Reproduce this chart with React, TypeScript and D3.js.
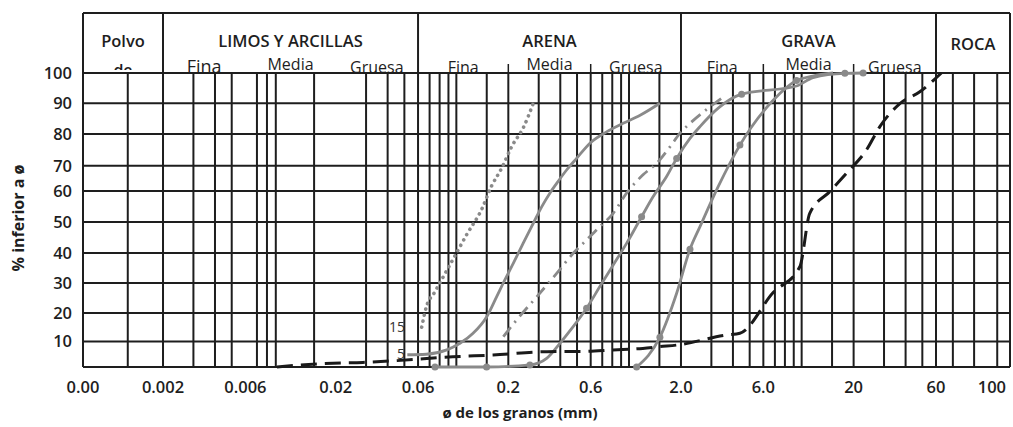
import React, { useRef, useEffect } from "react";
import * as d3 from "d3";

const W = 1013;
const H = 427;

// eje x: diámetro de grano (mm), eje y: % inferior
const xTickValues = [0.000688, 0.002, 0.006, 0.02, 0.06, 0.2, 0.6, 2, 6, 20, 60, 100];
const xTickLabels = ["0.00", "0.002", "0.006", "0.02", "0.06", "0.2", "0.6", "2.0", "6.0", "20", "60", "100"];
const yTickValues = [10, 20, 30, 40, 50, 60, 70, 80, 90, 100];

// líneas verticales de la cuadrícula (mm)
const gridX = [
  0.00125, 0.002, 0.003, 0.004, 0.005, 0.007, 0.008, 0.009,
  0.015, 0.03, 0.04, 0.05, 0.06, 0.07, 0.08, 0.09, 0.1,
  0.15, 0.2, 0.3, 0.4, 0.5, 0.6, 0.7, 0.8, 0.9, 1,
  1.5, 2, 3, 4, 5, 6, 7, 8, 9, 10,
  15, 20, 30, 40, 50, 60, 70, 85, 105,
];
const gridY = [0, 10, 20, 30, 40, 50, 60, 70, 80, 90, 100];

// cabecera
const classNames = ["Polvo", "LIMOS Y ARCILLAS", "ARENA", "GRAVA", "ROCA"];
const classBounds = [0.000688, 0.002, 0.06, 2, 60, 118];
const subNames = ["Fina", "Media", "Gruesa"];
const subBounds = [0.002, 0.006, 0.02, 0.06, 0.2, 0.6, 2, 6, 20, 60];
const subTicks = [0.2, 0.6, 6, 20];

// curvas granulométricas [mm, %, marca]
const curveDotted = [
  [0.063, 15], [0.067, 22], [0.075, 27], [0.082, 31], [0.098, 39], [0.115, 46],
  [0.14, 54], [0.16, 62], [0.183, 69], [0.209, 76], [0.244, 82], [0.279, 90],
];
const curveFine = [
  [0.052, 4.8], [0.067, 5], [0.088, 6.7], [0.105, 9.3], [0.125, 12.9], [0.15, 18.7],
  [0.171, 25.4], [0.187, 30], [0.214, 36.6], [0.244, 43.2], [0.279, 49.6], [0.312, 54.9],
  [0.348, 59.3], [0.381, 63], [0.435, 68.3], [0.497, 72.3], [0.594, 77.1], [0.741, 80.7],
  [0.925, 83.5], [1.16, 86.1], [1.51, 90],
];
const curveSand = [
  [0.0752, 0, 1], [0.1497, 0, 1], [0.2667, 0.8, 1], [0.3334, 3.4], [0.398, 9.3],
  [0.475, 15.2], [0.568, 21.6, 1], [0.678, 28.8], [0.81, 36], [0.968, 43.1],
  [1.183, 51.7, 1], [1.381, 58.2], [1.651, 65.7], [1.888, 72.3, 1], [2.255, 78.6],
  [2.577, 82.4], [3.3, 88.5], [4.49, 93, 1], [9.34, 95.7], [11.65, 98.5],
  [17.8, 99.9, 1], [22.7, 100, 1],
];
const curveDashDot = [
  [0.187, 11.7], [0.223, 17.5], [0.292, 25.4], [0.381, 33.2], [0.475, 39.9],
  [0.568, 44.2], [0.678, 48.5], [0.81, 52.8], [0.968, 59.3], [1.21, 66.5],
  [1.45, 70.8], [1.73, 76], [1.97, 80.2], [2.26, 83.5], [2.94, 88.8], [3.5, 92],
];
const curveGravel = [
  [1.107, 0, 1], [1.51, 11.5, 1], [1.888, 26.6], [2.255, 41.2, 1], [2.577, 48.5],
  [3.3, 62], [4.39, 76.5, 1], [6.84, 91], [9.34, 97.5, 1], [11.6, 99], [15.2, 100],
];
const curveCoarse = [
  [0.00914, 0], [0.01243, 0.8], [0.01929, 1.5], [0.02877, 1.8], [0.0453, 2.5],
  [0.0955, 4], [0.163, 4.7], [0.335, 6], [0.541, 6.1], [0.807, 6.7], [1.203, 7.3],
  [1.51, 8], [1.888, 8.6], [3.676, 12.3], [4.39, 12.9], [6.84, 26.8], [9.76, 35.4],
  [11.14, 52.8], [14.55, 59.8], [18.19, 67], [23.76, 75], [28.38, 82.4],
  [37.06, 89.9], [48.35, 93.8], [63, 100],
];
const annotations = [
  { text: "15", at: [0.0505, 15] },
  { text: "5", at: [0.0505, 5] },
];

const FONT = "'Open Sans', Lato, sans-serif";
const INK = "#1e1e1e";
const GRAY = "#8a8a8a";

const GranulometryChart = () => {
  const svgRef = useRef(null);

  useEffect(() => {
    const svg = d3.select(svgRef.current);
    svg.selectAll("*").remove();

    const x = d3.scaleLog().domain([0.000688, 60, 118]).range([83, 936, 1010]);
    const y = d3
      .scaleLinear()
      .domain(gridY)
      .range([367, 341.5, 313, 283, 253, 222, 191, 165.7, 134, 103.3, 73]);
    const headTop = 13;
    const x0 = x(classBounds[0]);
    const x1 = x(classBounds[classBounds.length - 1]);

    svg.append("rect").attr("width", W).attr("height", H).attr("fill", "#fff");

    // cuadrícula
    const grid = svg.append("g").attr("stroke", INK).attr("stroke-width", 2);
    grid
      .selectAll(".gx")
      .data(gridX)
      .enter()
      .append("line")
      .attr("x1", (d) => x(d))
      .attr("x2", (d) => x(d))
      .attr("y1", y(100))
      .attr("y2", y(0));
    grid
      .selectAll(".gy")
      .data(gridY)
      .enter()
      .append("line")
      .attr("x1", x0)
      .attr("x2", x1)
      .attr("y1", (d) => y(d))
      .attr("y2", (d) => y(d));
    [x0, x1].forEach((xx) =>
      grid
        .append("line")
        .attr("x1", xx)
        .attr("x2", xx)
        .attr("y1", headTop)
        .attr("y2", y(0))
    );

    // cabecera
    const head = svg.append("g");
    head
      .append("line")
      .attr("x1", x0)
      .attr("x2", x1)
      .attr("y1", headTop)
      .attr("y2", headTop)
      .attr("stroke", INK)
      .attr("stroke-width", 2);
    head
      .selectAll(".div")
      .data(classBounds.slice(1, -1))
      .enter()
      .append("line")
      .attr("x1", (d) => x(d))
      .attr("x2", (d) => x(d))
      .attr("y1", headTop)
      .attr("y2", y(100))
      .attr("stroke", INK)
      .attr("stroke-width", 2);
    head
      .selectAll(".tick")
      .data(subTicks)
      .enter()
      .append("line")
      .attr("x1", (d) => x(d))
      .attr("x2", (d) => x(d))
      .attr("y1", y(100) - 9)
      .attr("y2", y(100))
      .attr("stroke", INK)
      .attr("stroke-width", 1.5);
    head
      .selectAll(".cls")
      .data(classNames)
      .enter()
      .append("text")
      .attr("x", (d, i) => (x(classBounds[i]) + x(classBounds[i + 1])) / 2)
      .attr("y", (d, i) => (i === 4 ? 50 : 47))
      .attr("text-anchor", "middle")
      .attr("font-family", FONT)
      .attr("font-size", 16.5)
      .attr("font-weight", 600)
      .attr("fill", INK)
      .text((d) => d);

    // "de" recortado bajo "Polvo"
    svg
      .append("clipPath")
      .attr("id", "polvo-clip")
      .append("rect")
      .attr("x", x0)
      .attr("y", headTop)
      .attr("width", x(0.002) - x0)
      .attr("height", 57);
    head
      .append("text")
      .attr("clip-path", "url(#polvo-clip)")
      .attr("x", (x0 + x(0.002)) / 2)
      .attr("y", 76)
      .attr("text-anchor", "middle")
      .attr("font-family", FONT)
      .attr("font-size", 16)
      .attr("font-weight", 600)
      .attr("fill", INK)
      .text("de");

    const subs = [];
    for (let i = 0; i < subBounds.length - 1; i++) {
      subs.push({
        name: subNames[i % 3],
        v: Math.sqrt(subBounds[i] * subBounds[i + 1]),
        big: i === 0,
      });
    }
    head
      .selectAll(".sub")
      .data(subs)
      .enter()
      .append("text")
      .attr("x", (d) => x(d.v))
      .attr("y", (d) => (d.name === "Media" ? 70 : 73))
      .attr("text-anchor", "middle")
      .attr("font-family", FONT)
      .attr("font-size", (d) => (d.big ? 18 : 16))
      .attr("fill", INK)
      .text((d) => d.name);

    // curvas
    const clipId = "plot-clip";
    svg
      .append("clipPath")
      .attr("id", clipId)
      .append("rect")
      .attr("x", x0)
      .attr("y", y(100) - 4)
      .attr("width", x1 - x0)
      .attr("height", y(0) - y(100) + 8);
    const plot = svg.append("g").attr("clip-path", `url(#${clipId})`);
    const line = d3
      .line()
      .x((d) => x(d[0]))
      .y((d) => y(d[1]))
      .curve(d3.curveMonotoneX);

    const series = [
      { data: curveDotted, color: GRAY, width: 3.6, dash: "0.1 6", cap: "round" },
      { data: curveFine, color: GRAY, width: 2.8 },
      { data: curveDashDot, color: GRAY, width: 2.8, dash: "12 6 2 6" },
      { data: curveSand, color: GRAY, width: 2.8 },
      { data: curveGravel, color: GRAY, width: 2.8 },
      { data: curveCoarse, color: "#1a1a1a", width: 3, dash: "16 8" },
    ];
    series.forEach((s) => {
      plot
        .append("path")
        .datum(s.data)
        .attr("d", line)
        .attr("fill", "none")
        .attr("stroke", s.color)
        .attr("stroke-width", s.width)
        .attr("stroke-dasharray", s.dash || null)
        .attr("stroke-linecap", s.cap || "butt");
      plot
        .selectAll(null)
        .data(s.data.filter((d) => d[2]))
        .enter()
        .append("circle")
        .attr("cx", (d) => x(d[0]))
        .attr("cy", (d) => y(d[1]))
        .attr("r", 3.5)
        .attr("fill", s.color);
    });

    svg
      .selectAll(".ann")
      .data(annotations)
      .enter()
      .append("text")
      .attr("x", (d) => x(d.at[0]))
      .attr("y", (d) => y(d.at[1]))
      .attr("dy", "0.35em")
      .attr("text-anchor", "end")
      .attr("font-family", FONT)
      .attr("font-size", 14)
      .attr("fill", "#333")
      .text((d) => d.text);

    // ejes
    svg
      .selectAll(".xl")
      .data(xTickValues)
      .enter()
      .append("text")
      .attr("x", (d) => x(d))
      .attr("y", 393)
      .attr("text-anchor", "middle")
      .attr("font-family", FONT)
      .attr("font-size", 16.5)
      .attr("font-weight", 600)
      .attr("fill", INK)
      .text((d, i) => xTickLabels[i]);
    svg
      .selectAll(".yl")
      .data(yTickValues)
      .enter()
      .append("text")
      .attr("x", 72)
      .attr("y", (d) => y(d))
      .attr("dy", "0.36em")
      .attr("text-anchor", "end")
      .attr("font-family", FONT)
      .attr("font-size", 16.5)
      .attr("font-weight", 600)
      .attr("fill", INK)
      .text((d) => d);

    svg
      .append("text")
      .attr("x", 520)
      .attr("y", 418)
      .attr("text-anchor", "middle")
      .attr("font-family", FONT)
      .attr("font-size", 15)
      .attr("font-weight", "bold")
      .attr("fill", INK)
      .text("ø de los granos (mm)");
    svg
      .append("text")
      .attr("transform", "translate(24,218) rotate(-90)")
      .attr("text-anchor", "middle")
      .attr("font-family", FONT)
      .attr("font-size", 16)
      .attr("font-weight", "bold")
      .attr("fill", INK)
      .text("% inferior a ø");
  }, []);

  return <svg ref={svgRef} width={W} height={H} style={{ display: "block" }}></svg>;
};

export default function App() {
  return (
    <div>
      <style>{"body{margin:0}"}</style>
      <GranulometryChart />
    </div>
  );
}
